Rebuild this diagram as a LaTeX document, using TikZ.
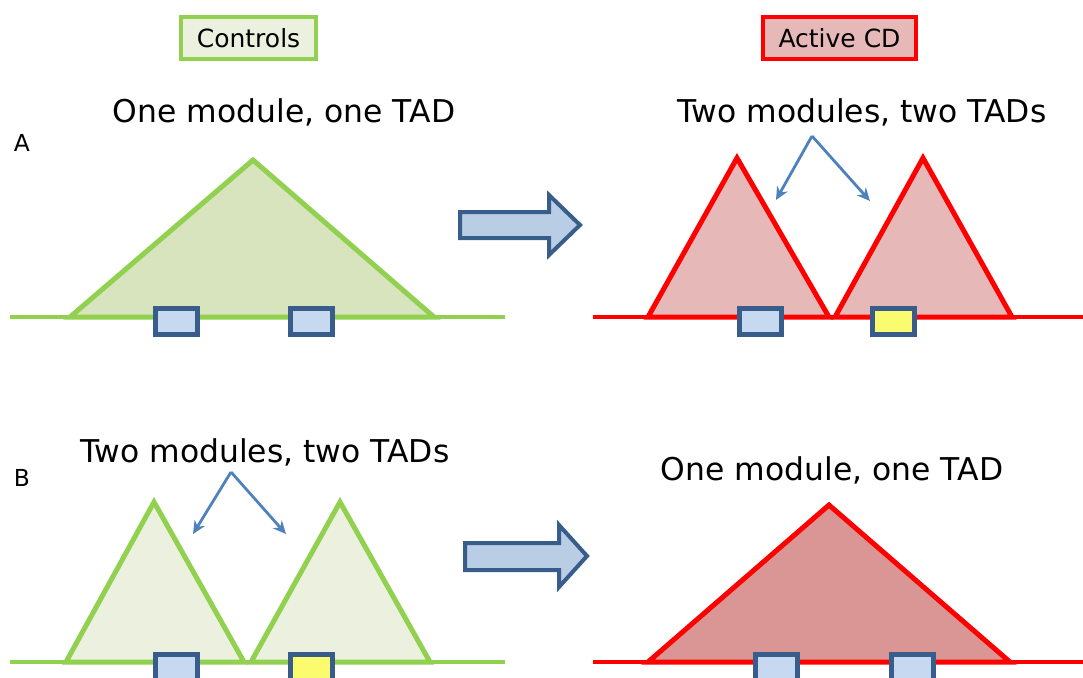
\documentclass[tikz,border=0pt]{standalone}
\usepackage{fontspec}
\setmainfont{DejaVu Sans}
\usetikzlibrary{arrows.meta}

\definecolor{ctrlline}{HTML}{92D050}
\definecolor{ctrlfill}{HTML}{EBF1DE}
\definecolor{ctrltad}{HTML}{D7E4BD}
\definecolor{cdline}{HTML}{FF0000}
\definecolor{cdfill}{HTML}{E6B9B8}
\definecolor{cdtad}{HTML}{D99694}
\definecolor{genefill}{HTML}{C6D9F1}
\definecolor{genedraw}{HTML}{385D8A}
\definecolor{activegene}{HTML}{FBFB6F}
\definecolor{stepfill}{HTML}{B9CDE5}
\definecolor{pointer}{HTML}{4F81BD}

\begin{document}
\begin{tikzpicture}[
  x=0.5pt, y=-0.5pt,
  title/.style={font=\fontsize{15.7}{18}\selectfont},
  panel/.style={font=\fontsize{11.7}{14}\selectfont},
  header/.style={draw, line width=2.2pt, minimum height=21pt, inner sep=0pt,
                 font=\fontsize{12.5}{15}\selectfont},
  chrom/.style={line width=2pt},
  tad/.style={line width=2.5pt, line join=miter},
  gene/.style={draw=genedraw, line width=2.5pt, fill=genefill},
  bigarrow/.style={draw=genedraw, line width=2pt, fill=stepfill, line join=miter},
  pointto/.style={-{Stealth[length=6.5pt, width=6pt]}, pointer, line width=1.4pt}
]
\useasboundingbox (0,0) rectangle (1083,677);

% column headers
\node[header, draw=ctrlline, fill=ctrlfill, minimum width=67.5pt] (controls) at (248.5,38) {Controls};
\node[header, draw=cdline, fill=cdfill, minimum width=76.5pt] (activecd) at (839.5,38) {Active CD};

\node[panel] (panelA) at (22,143) {A};
\node[panel] (panelB) at (22,478) {B};

% ---- row A, controls: one TAD
\draw[chrom, ctrlline] (10,317) -- (505,317);
\draw[tad, draw=ctrlline, fill=ctrltad] (70,317) -- (253,160) -- (434,317) -- cycle;
\draw[gene] (155,308) rectangle (197,334);
\draw[gene] (290,308) rectangle (332,334);
\node[title] (oneA) at (284,112) {One module, one TAD};

% ---- row A, active CD: two TADs
\draw[chrom, cdline] (593,317) -- (1083,317);
\draw[tad, draw=cdline, fill=cdfill] (648,317) -- (737,158) -- (829,317) -- cycle;
\draw[tad, draw=cdline, fill=cdfill] (835,317) -- (923,158) -- (1012,317) -- cycle;
\draw[gene] (739,308) rectangle (781,334);
\draw[gene, fill=activegene] (872,308) rectangle (914,334);
\node[title] (twoA) at (862,112) {Two modules, two TADs};
\coordinate (forkA) at (812,136);
\draw[pointto] (forkA) -- (776,200);
\draw[pointto] (forkA) -- (870,201);

% ---- row B, controls: two TADs
\draw[chrom, ctrlline] (10,662) -- (505,662);
\draw[tad, draw=ctrlline, fill=ctrlfill] (66,662) -- (154,502) -- (244,662) -- cycle;
\draw[tad, draw=ctrlline, fill=ctrlfill] (251,662) -- (340,502) -- (430,662) -- cycle;
\draw[gene] (155,654) rectangle (197,690);
\draw[gene, fill=activegene] (290,654) rectangle (332,690);
\node[title] (twoB) at (265,452) {Two modules, two TADs};
\coordinate (forkB) at (231,472);
\draw[pointto] (forkB) -- (193,534);
\draw[pointto] (forkB) -- (286,534);

% ---- row B, active CD: one TAD
\draw[chrom, cdline] (593,662) -- (1083,662);
\draw[tad, draw=cdline, fill=cdtad] (648,662) -- (829,505) -- (1010,662) -- cycle;
\draw[gene] (755,654) rectangle (797,690);
\draw[gene] (891,654) rectangle (933,690);
\node[title] (oneB) at (832,470) {One module, one TAD};

% arrows between columns
\draw[bigarrow] (460,212) -- (549,212) -- (549,195) -- (580,225) -- (549,255)
  -- (549,238) -- (460,238) -- cycle;
\draw[bigarrow] (465,543) -- (559,543) -- (559,525) -- (587,556) -- (559,587)
  -- (559,570) -- (465,570) -- cycle;
\end{tikzpicture}
\end{document}
